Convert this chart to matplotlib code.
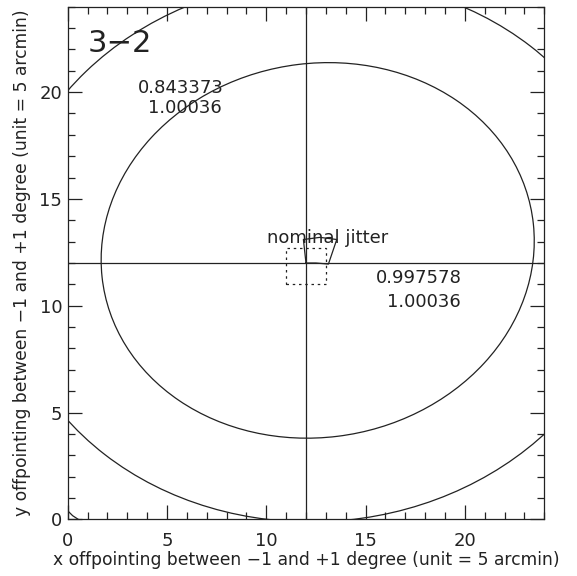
import matplotlib
matplotlib.use("Agg")
import matplotlib.pyplot as plt
from matplotlib.patches import Ellipse, Rectangle
from matplotlib.ticker import MultipleLocator

# contours of the pointing map (centre, half axes of inner one, tilt, scales)
centre = (12.59, 12.59)
semi_axes = (10.93, 8.76)
tilts = [6.5, 3.0]
scales = [1.0, 1.45]

# third contour only clips the lower left corner
corner_x = [0.0, 0.25, 0.53]
corner_y = [0.4, 0.17, 0.0]

# nominal pointing cross
nominal = (12, 12)

# jitter box and measured jitter polygon
box_x = [11, 13]
box_y = [11, 12.7]
jit_x = [12.0, 11.87, 12.7, 13.55, 13.13, 12.5, 12.0]
jit_y = [12.0, 13.1, 13.2, 13.1, 11.95, 12.0, 12.0]

# values written on the map
labels = ["0.843373", "1.00036", "0.997578", "1.00036"]
label_x = [3.54, 4.05, 15.53, 16.07]
label_y = [19.96, 19.02, 11.05, 9.95]

col = "#222222"
plt.rcParams['font.family'] = ['DejaVu Sans']

fig = plt.figure(figsize=(5.77, 5.76), dpi=100)
ax = fig.add_axes([0.1173, 0.0984, 0.826, 0.890])

for s, t in zip(scales, tilts):
	e = Ellipse(centre, 2*semi_axes[0]*s, 2*semi_axes[1]*s, angle=t,
		fill=False, ec=col, lw=0.9)
	ax.add_patch(e)
ax.plot(corner_x, corner_y, color=col, lw=0.9)

ax.axvline(nominal[0], color=col, lw=0.9)
ax.axhline(nominal[1], color=col, lw=0.9)

ax.add_patch(Rectangle((box_x[0], box_y[0]), box_x[1]-box_x[0], box_y[1]-box_y[0],
	fill=False, ec=col, lw=0.9, ls=(0, (2, 3))))
ax.plot(jit_x, jit_y, color=col, lw=0.9)

for t, x, y in zip(labels, label_x, label_y):
	ax.text(x, y, t, fontsize=13, color=col, va='baseline', ha='left')
ax.text(10.03, 12.95, "nominal jitter", fontsize=13, color=col, va='baseline', ha='left')
ax.text(1.0, 21.9, "3\u22122", fontsize=22, color=col, va='baseline', ha='left')

ax.set_xlim(0, 24)
ax.set_ylim(0, 24)
ax.xaxis.set_major_locator(MultipleLocator(5))
ax.xaxis.set_minor_locator(MultipleLocator(1))
ax.yaxis.set_major_locator(MultipleLocator(5))
ax.yaxis.set_minor_locator(MultipleLocator(1))
ax.tick_params(which='both', direction='in', top=True, right=True, color=col,
	labelsize=13, labelcolor=col, width=0.9)
ax.tick_params(which='major', length=10)
ax.tick_params(which='minor', length=5)
ax.tick_params(axis='x', which='major', pad=9)
ax.tick_params(axis='y', which='major', pad=4)
for sp in ax.spines.values():
	sp.set_color(col)
	sp.set_linewidth(0.9)

ax.set_xlabel("x offpointing between \u22121 and +1 degree (unit = 5 arcmin)",
	fontsize=12.3, color=col, labelpad=1)
ax.set_ylabel("y offpointing between \u22121 and +1 degree (unit = 5 arcmin)",
	fontsize=12.3, color=col, labelpad=6)

fig.savefig("out.png", dpi=100)
